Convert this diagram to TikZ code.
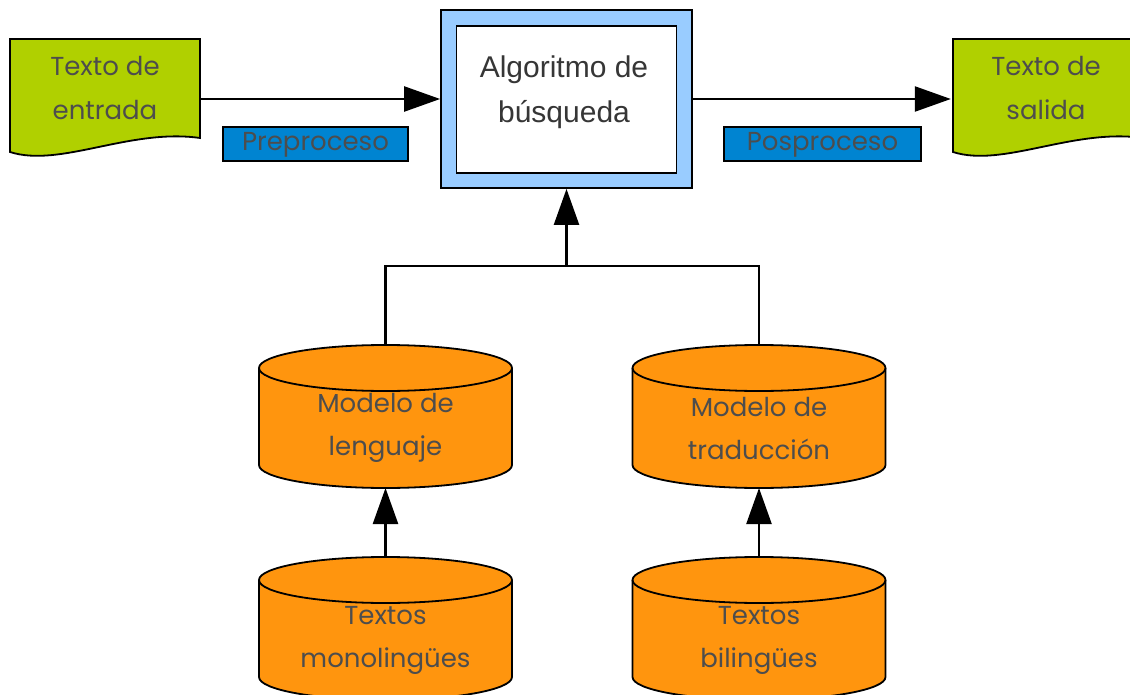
\documentclass[tikz,border=0pt]{standalone}
\usepackage{fontspec}
\setmainfont{Liberation Sans}
\newfontfamily\gothic{Poppins}
\usetikzlibrary{arrows.meta}

\definecolor{docgreen}{HTML}{B0D000}
\definecolor{tagblue}{HTML}{0084D1}
\definecolor{frameblue}{HTML}{99CCFF}
\definecolor{drumorange}{HTML}{FF950E}
\definecolor{inkgray}{HTML}{4D4D4D}

\begin{document}
\begin{tikzpicture}[x=1pt,y=-1pt,
    outline/.style={draw=black,line width=1.8pt},
    doctext/.style={font=\gothic\fontsize{26}{44}\selectfont,text=inkgray,align=center,minimum width=190pt,inner sep=0pt},
    tag/.style={outline,fill=tagblue,font=\gothic\fontsize{26}{28}\selectfont,text=inkgray,inner sep=0pt,
        text height=17pt,text depth=4pt,minimum height=34pt},
    drumtext/.style={font=\gothic\fontsize{26}{43}\selectfont,text=inkgray,align=center},
    conn/.style={line width=2.4pt},
    arr/.style={conn,-{Triangle[length=36pt,width=25pt]}}]
    \useasboundingbox (0,0) rectangle (1130,695);
    % documents
    \foreach \dx in {10,953} {
        \filldraw[outline,fill=docgreen] (\dx,39) -- (\dx+190,39) -- (\dx+190,138)
            .. controls (\dx+120,128) and (\dx+50,168) .. (\dx,152) -- cycle;
    }
    \node[doctext] (entrada) at (105,88) {Texto de\\entrada};
    \node[doctext] (salida) at (1046,88) {Texto de\\salida};
    % search box
    \node[outline,fill=frameblue,minimum width=251pt,minimum height=178pt] (algout) at (566.5,99) {};
    \node[outline,fill=white,minimum width=220pt,minimum height=147pt] (algin) at (566.5,99.5) {};
    \node[font=\fontsize{30}{45}\selectfont,text=inkgray!70!black,align=center] (alg) at (564,92) {Algoritmo de\\búsqueda};
    \node[tag,minimum width=185pt] (pre) at (315.5,144) {Preproceso};
    \node[tag,minimum width=197pt] (pos) at (822.5,144) {Posproceso};
    \draw[arr] (entrada.east |- algout.west) -- (algout.west);
    \draw[arr] (algout.east) -- (salida.west |- algout.east);
    % models and corpora
    \foreach \name/\cx/\cy/\txt in {lm/385.5/368/{Modelo de\\lenguaje},
                                    tm/759/368/{Modelo de\\traducción},
                                    mono/385.5/580/{Textos\\monolingües},
                                    bil/759/580/{Textos\\bilingües}} {
        \filldraw[outline,fill=drumorange] (\cx-126.5,\cy) -- (\cx-126.5,\cy+97)
            arc[start angle=180,end angle=360,x radius=126.5pt,y radius=23pt]
            -- (\cx+126.5,\cy)
            arc[start angle=0,end angle=180,x radius=126.5pt,y radius=23pt] -- cycle;
        \draw[outline] (\cx+126.5,\cy) arc[start angle=0,end angle=-180,x radius=126.5pt,y radius=23pt];
        \coordinate (\name-top) at (\cx,\cy-23);
        \coordinate (\name-bot) at (\cx,\cy+120);
        \node[drumtext] (\name) at (\cx,\cy+60) {\txt};
    }
    \coordinate (fork) at (566.5,266);
    \draw[conn] (lm-top) |- (fork) -| (tm-top);
    \draw[arr] (fork) -- (algout.south);
    \draw[arr] (mono-top) -- (lm-bot);
    \draw[arr] (bil-top) -- (tm-bot);
\end{tikzpicture}
\end{document}
